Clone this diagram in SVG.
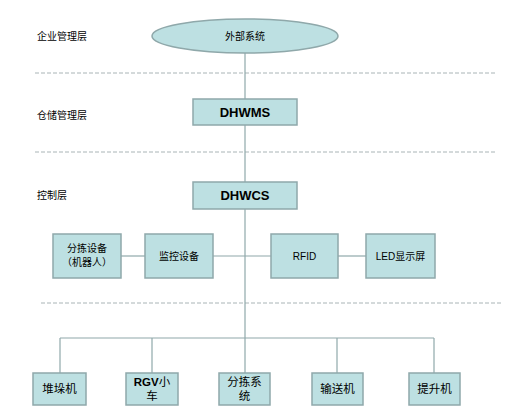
<svg xmlns="http://www.w3.org/2000/svg" width="522" height="410" viewBox="0 0 522 410">
<style>
.box{fill:#bde0e2;stroke:#8fa8aa;stroke-width:1.5}
.ln{stroke:#8fa8aa;stroke-width:1.2;fill:none}
.dash{stroke:#a9b4b6;stroke-width:1;stroke-dasharray:4,2;fill:none}
.t{font-family:"Liberation Sans","Noto Sans CJK SC",sans-serif;font-size:10px;fill:#000;text-anchor:middle}
.tb{font-family:"Liberation Sans","Noto Sans CJK SC",sans-serif;font-size:13px;font-weight:bold;fill:#000;text-anchor:middle}
.tl{font-family:"Liberation Sans","Noto Sans CJK SC",sans-serif;font-size:10px;fill:#000}
.tm{font-family:"Liberation Sans","Noto Sans CJK SC",sans-serif;font-size:11.5px;fill:#000;text-anchor:middle}
</style>
<rect width="522" height="410" fill="#fff"/>
<g id="layers">
<line class="dash" x1="35" y1="73" x2="496" y2="73"/>
<line class="dash" x1="35" y1="152" x2="496" y2="152"/>
<line class="dash" x1="41" y1="303" x2="501" y2="303"/>
<text class="tl" x="37" y="40">企业管理层</text>
<text class="tl" x="37" y="119">仓储管理层</text>
<text class="tl" x="37" y="199">控制层</text>
</g>
<g id="connectors">
<line class="ln" x1="245" y1="53" x2="245" y2="99"/>
<line class="ln" x1="245" y1="125" x2="245" y2="182"/>
<line class="ln" x1="245" y1="209" x2="245" y2="338"/>
<line class="ln" x1="121" y1="256" x2="145" y2="256"/>
<line class="ln" x1="213" y1="256" x2="271" y2="256"/>
<line class="ln" x1="338" y1="256" x2="366" y2="256"/>
<line class="ln" x1="60" y1="338" x2="434" y2="338"/>
<line class="ln" x1="60" y1="338" x2="60" y2="373"/>
<line class="ln" x1="152" y1="338" x2="152" y2="373"/>
<line class="ln" x1="245" y1="338" x2="245" y2="373"/>
<line class="ln" x1="337" y1="338" x2="337" y2="373"/>
<line class="ln" x1="434" y1="338" x2="434" y2="373"/>
</g>
<g id="n-external">
<ellipse class="box" cx="245" cy="36" rx="93" ry="17"/>
<text class="t" x="245" y="40">外部系统</text>
</g>
<g id="n-dhwms">
<rect class="box" x="193" y="99" width="104" height="26"/>
<text class="tb" x="245" y="117">DHWMS</text>
</g>
<g id="n-dhwcs">
<rect class="box" x="193" y="182" width="104" height="27"/>
<text class="tb" x="245" y="200">DHWCS</text>
</g>
<g id="n-sort-robot">
<rect class="box" x="53" y="234" width="68" height="44"/>
<text class="t" x="87" y="252">分拣设备</text>
<text class="t" x="87" y="266">（机器人）</text>
</g>
<g id="n-monitor">
<rect class="box" x="145" y="234" width="68" height="44"/>
<text class="t" x="179" y="260">监控设备</text>
</g>
<g id="n-rfid">
<rect class="box" x="271" y="234" width="67" height="44"/>
<text class="t" x="304.5" y="260">RFID</text>
</g>
<g id="n-led">
<rect class="box" x="366" y="234" width="69" height="44"/>
<text class="t" x="400.5" y="260">LED显示屏</text>
</g>
<g id="n-stacker">
<rect class="box" x="33" y="373" width="53" height="32"/>
<text class="tm" x="59.5" y="393">堆垛机</text>
</g>
<g id="n-rgv">
<rect class="box" x="126" y="373" width="52" height="32"/>
<text class="tm" x="152" y="386"><tspan font-weight="bold">RGV</tspan>小</text>
<text class="tm" x="152" y="400">车</text>
</g>
<g id="n-sortsys">
<rect class="box" x="219" y="373" width="51" height="32"/>
<text class="tm" x="244.5" y="386">分拣系</text>
<text class="tm" x="244.5" y="400">统</text>
</g>
<g id="n-conveyor">
<rect class="box" x="312" y="373" width="51" height="32"/>
<text class="tm" x="337.5" y="393">输送机</text>
</g>
<g id="n-lift">
<rect class="box" x="409" y="373" width="51" height="32"/>
<text class="tm" x="434.5" y="393">提升机</text>
</g>
</svg>
